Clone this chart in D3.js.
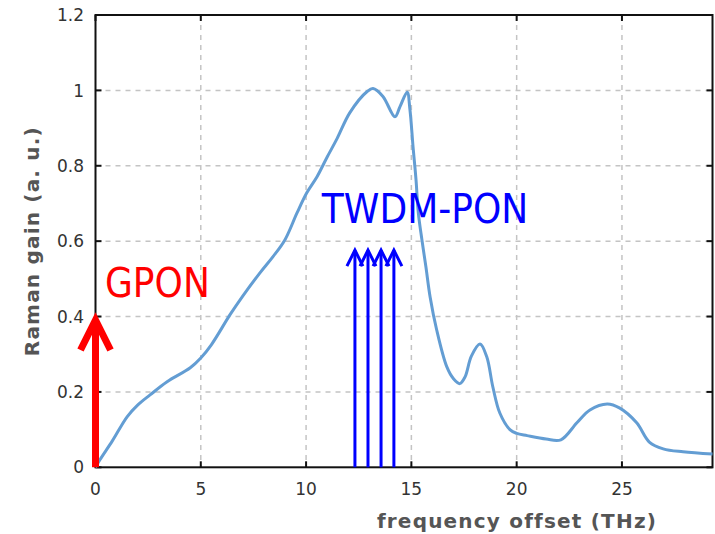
<!DOCTYPE html>
<html>
<head>
<meta charset="utf-8">
<script src="https://cdn.jsdelivr.net/npm/d3@7"></script>
<style>
  body { margin: 0; background: #fff; }
  svg { display: block; }
</style>
</head>
<body>
<script>
// Raman gain curve (frequency offset in THz, gain in a.u.)
const freq = [0, 0.21, 0.8, 1.5, 2.0, 2.59, 3.4, 4.5, 5.0, 5.5, 6.39, 7.0, 7.81, 8.43, 9.0,
              9.57, 10.04, 10.52, 10.99, 11.47, 12.08, 12.9, 13.18, 13.65, 14.22, 14.46,
              14.8, 14.93, 15.08, 15.22, 15.33, 15.5, 15.69, 15.89, 16.2, 16.68, 17.0,
              17.3, 17.55, 17.85, 18.26, 18.58, 18.87, 19.2, 19.68, 20.0, 20.5, 21.4, 22.1,
              22.86, 23.48, 24.3, 24.9, 25.7, 26.3, 26.96, 27.9, 29.3];
const gain = [0, 0.02, 0.07, 0.134, 0.165, 0.192, 0.227, 0.264, 0.29, 0.325, 0.405, 0.455, 0.516, 0.559, 0.604,
              0.675, 0.729, 0.771, 0.822, 0.872, 0.941, 0.997, 1.005, 0.984, 0.93, 0.957,
              0.995, 0.95, 0.85, 0.763, 0.675, 0.604, 0.532, 0.452, 0.365, 0.267, 0.235,
              0.222, 0.24, 0.295, 0.327, 0.293, 0.213, 0.144, 0.1, 0.09, 0.084, 0.075, 0.073,
              0.118, 0.152, 0.168, 0.157, 0.118, 0.067, 0.049, 0.041, 0.035];

// Pump arrows
const gponFreq = [0];
const gponHeight = 0.4;
const twdmFreq = [12.32, 12.94, 13.56, 14.17];
const twdmHeight = 0.58;

// Annotation anchors (data units)
const gponLabel = {t: 0.45, v: 0.452, text: "GPON"};
const twdmLabel = {t: 10.75, v: 0.649, text: "TWDM-PON"};

// Axis ticks
const xTicks = [0, 5, 10, 15, 20, 25];
const yTicks = [0, 0.2, 0.4, 0.6, 0.8, 1, 1.2];

const width = 715, height = 534;
const plotL = 95.5, plotR = 712.5, plotT = 15, plotB = 467.3;

const svg = d3.select("body").append("svg")
    .attr("width", width)
    .attr("height", height);

const x = d3.scaleLinear().domain([0, 29.3]).range([plotL, plotR]);
const y = d3.scaleLinear().domain([0, 1.2]).range([plotB, plotT]);

// Dashed grid
const grid = svg.append("g")
    .attr("stroke", "#c4c4c4")
    .attr("stroke-width", 1.5)
    .attr("stroke-dasharray", "5,5");
grid.selectAll(".vg")
    .data(xTicks.filter(d => d > 0))
    .join("line")
    .attr("x1", d => x(d)).attr("x2", d => x(d))
    .attr("y1", plotT).attr("y2", plotB);
grid.selectAll(".hg")
    .data(yTicks.filter(d => d > 0 && d < 1.2))
    .join("line")
    .attr("x1", plotL).attr("x2", plotR)
    .attr("y1", d => y(d)).attr("y2", d => y(d));

// Frame
svg.append("rect")
    .attr("x", plotL).attr("y", plotT)
    .attr("width", plotR - plotL).attr("height", plotB - plotT)
    .attr("fill", "none")
    .attr("stroke", "#111")
    .attr("stroke-width", 2);

// Inner ticks
const tickLen = 6;
const ticks = svg.append("g").attr("stroke", "#111").attr("stroke-width", 2);
ticks.selectAll(".xb").data(xTicks).join("line")
    .attr("x1", d => x(d)).attr("x2", d => x(d))
    .attr("y1", plotB).attr("y2", plotB - tickLen);
ticks.selectAll(".xt").data(xTicks).join("line")
    .attr("x1", d => x(d)).attr("x2", d => x(d))
    .attr("y1", plotT).attr("y2", plotT + tickLen);
ticks.selectAll(".yl").data(yTicks).join("line")
    .attr("x1", plotL).attr("x2", plotL + tickLen)
    .attr("y1", d => y(d)).attr("y2", d => y(d));
ticks.selectAll(".yr").data(yTicks).join("line")
    .attr("x1", plotR).attr("x2", plotR - tickLen)
    .attr("y1", d => y(d)).attr("y2", d => y(d));

// Tick labels
svg.append("g")
    .selectAll("text")
    .data(xTicks)
    .join("text")
    .attr("x", d => x(d))
    .attr("y", 495)
    .attr("text-anchor", "middle")
    .attr("font-family", "DejaVu Sans")
    .attr("font-size", 17)
    .attr("fill", "#333")
    .text(d => d);
svg.append("g")
    .selectAll("text")
    .data(yTicks)
    .join("text")
    .attr("x", 84)
    .attr("y", d => y(d))
    .attr("dy", "0.36em")
    .attr("text-anchor", "end")
    .attr("font-family", "DejaVu Sans")
    .attr("font-size", 17)
    .attr("fill", "#333")
    .text(d => d);

// Axis titles
svg.append("text")
    .attr("x", 517)
    .attr("y", 528)
    .attr("text-anchor", "middle")
    .attr("font-family", "DejaVu Sans")
    .attr("font-weight", "bold")
    .attr("font-size", 20)
    .attr("letter-spacing", 1.2)
    .attr("fill", "#555")
    .text("frequency offset (THz)");
svg.append("text")
    .attr("transform", `translate(39,${(plotT + plotB) / 2}) rotate(-90)`)
    .attr("text-anchor", "middle")
    .attr("font-family", "DejaVu Sans")
    .attr("font-weight", "bold")
    .attr("font-size", 20)
    .attr("letter-spacing", 1.2)
    .attr("fill", "#555")
    .text("Raman gain (a. u.)");

// Gain curve
const line = d3.line()
    .x((d, i) => x(freq[i]))
    .y(d => y(d))
    .curve(d3.curveCatmullRom.alpha(0.5));
svg.append("path")
    .datum(gain)
    .attr("d", line)
    .attr("fill", "none")
    .attr("stroke", "#639dd3")
    .attr("stroke-width", 3);

// Arrows: shaft plus open chevron head
function drawArrows(data, h, color, sw, headW, headH) {
    const g = svg.append("g")
        .attr("stroke", color)
        .attr("stroke-width", sw)
        .attr("fill", "none");
    g.selectAll(".shaft").data(data).join("line")
        .attr("x1", d => x(d)).attr("x2", d => x(d))
        .attr("y1", y(0)).attr("y2", y(h) + sw / 2);
    g.selectAll(".head").data(data).join("path")
        .attr("stroke-linejoin", "miter")
        .attr("d", d => {
            const px = x(d), py = y(h) + sw / 2;
            return `M${px - headW},${py + headH}L${px},${py}L${px + headW},${py + headH}`;
        });
}
drawArrows(gponFreq, gponHeight, "#ff0000", 7, 15, 30);
drawArrows(twdmFreq, twdmHeight, "#0000ff", 3, 8, 16);

// Labels
svg.append("text")
    .attr("x", x(gponLabel.t))
    .attr("y", y(gponLabel.v))
    .attr("font-family", "DejaVu Sans Condensed, DejaVu Sans")
    .attr("font-stretch", "condensed")
    .attr("font-size", 40)
    .attr("fill", "#ff0000")
    .text(gponLabel.text);
svg.append("text")
    .attr("x", x(twdmLabel.t))
    .attr("y", y(twdmLabel.v))
    .attr("font-family", "DejaVu Sans Condensed, DejaVu Sans")
    .attr("font-stretch", "condensed")
    .attr("font-size", 40)
    .attr("fill", "#0000ff")
    .text(twdmLabel.text);
</script>
</body>
</html>
